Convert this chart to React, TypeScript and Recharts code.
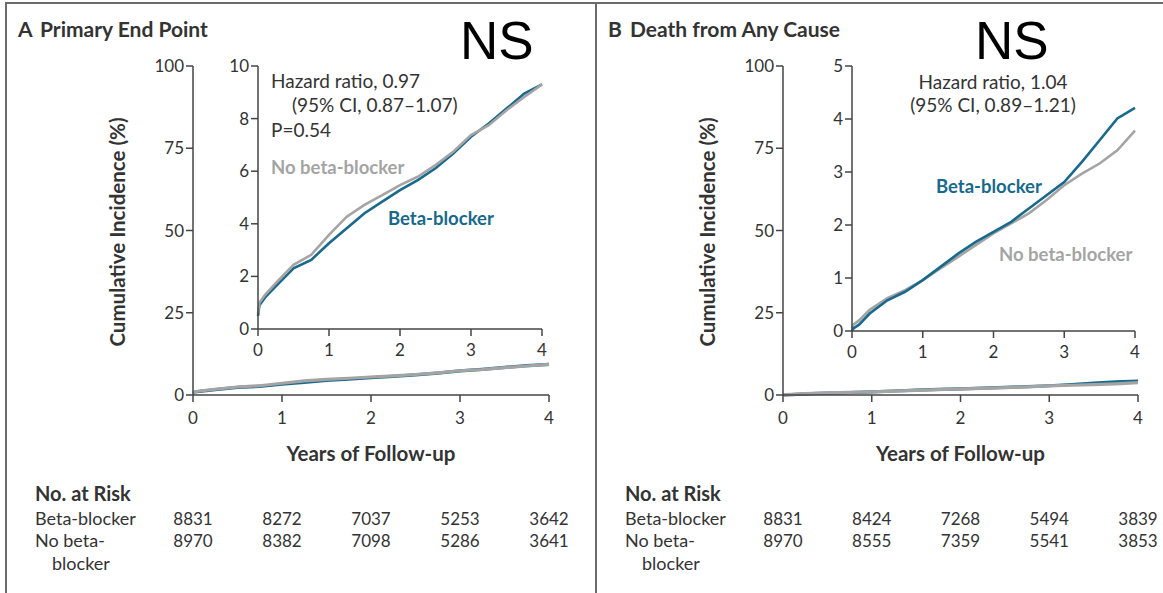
import React from 'react';
import { LineChart, Line, XAxis, YAxis } from 'recharts';

// follow-up time (years) at which the curves were read
const years = [0, 0.02, 0.1, 0.25, 0.5, 0.75, 1, 1.25, 1.5, 1.75, 2, 2.25, 2.5, 2.75, 3, 3.25, 3.5, 3.75, 4];

// A: primary end point, cumulative incidence (%)
const primaryBeta = [0.5, 0.9, 1.2, 1.62, 2.31, 2.63, 3.26, 3.83, 4.4, 4.84, 5.28, 5.66, 6.11, 6.67, 7.31, 7.81, 8.38, 8.95, 9.3];
const primaryNoBeta = [0.6, 1.0, 1.3, 1.74, 2.44, 2.82, 3.58, 4.27, 4.72, 5.09, 5.47, 5.79, 6.23, 6.74, 7.37, 7.75, 8.32, 8.82, 9.3];

// B: death from any cause, cumulative incidence (%)
const deathBeta = [0, 0.05, 0.12, 0.33, 0.58, 0.74, 0.96, 1.21, 1.46, 1.68, 1.87, 2.06, 2.31, 2.56, 2.81, 3.19, 3.6, 4.01, 4.21];
const deathNoBeta = [0.05, 0.12, 0.2, 0.4, 0.62, 0.77, 0.96, 1.18, 1.4, 1.62, 1.84, 2.03, 2.22, 2.47, 2.75, 2.97, 3.16, 3.41, 3.78];

const yearTicks = [0, 1, 2, 3, 4];
const mainTicks = [0, 25, 50, 75, 100];
const primaryInsetTicks = [0, 2, 4, 6, 8, 10];
const deathInsetTicks = [0, 1, 2, 3, 4, 5];

// numbers at risk
const primaryRiskBeta = [8831, 8272, 7037, 5253, 3642];
const primaryRiskNoBeta = [8970, 8382, 7098, 5286, 3641];
const deathRiskBeta = [8831, 8424, 7268, 5494, 3839];
const deathRiskNoBeta = [8970, 8555, 7359, 5541, 3853];

const BLUE = '#17698d';
const GRAY = '#a4a4a4';
const AXIS = '#444';
const TEXT = '#333';
const FONT = 'Lato, "Open Sans", sans-serif';

const toRows = (beta: number[], noBeta: number[]) =>
  years.map((t, i) => ({ t, beta: beta[i], noBeta: noBeta[i] }));

type Box = { left: number; top: number; right: number; bottom: number };

const KMChart = ({ box, data, yMax, yTicks, yAxisWidth, lineWidth, grayOnTop, xTickMargin }: {
  box: Box;
  data: { t: number; beta: number; noBeta: number }[];
  yMax: number;
  yTicks: number[];
  yAxisWidth: number;
  lineWidth: number;
  grayOnTop: boolean;
  xTickMargin: number;
}) => {
  const margin = { top: 10, right: 14, left: 0, bottom: 0 };
  const xAxisHeight = 40;
  const width = yAxisWidth + (box.right - box.left) + margin.right;
  const height = margin.top + (box.bottom - box.top) + xAxisHeight;
  const tick = { fill: TEXT, fontSize: 17, fontFamily: FONT };
  const lines = [
    <Line key="b" dataKey="beta" stroke={BLUE} strokeWidth={lineWidth} dot={false} isAnimationActive={false} type="linear" />,
    <Line key="n" dataKey="noBeta" stroke={GRAY} strokeWidth={lineWidth} dot={false} isAnimationActive={false} type="linear" />,
  ];
  return (
    <div style={{ position: 'absolute', left: box.left - yAxisWidth, top: box.top - margin.top }}>
      <LineChart width={width} height={height} data={data} margin={margin}>
        <XAxis
          dataKey="t"
          type="number"
          domain={[0, 4]}
          ticks={yearTicks}
          interval={0}
          height={xAxisHeight}
          tickSize={7}
          tickMargin={xTickMargin}
          axisLine={{ stroke: AXIS, strokeWidth: 1.5 }}
          tickLine={{ stroke: AXIS, strokeWidth: 1.5 }}
          tick={tick}
        />
        <YAxis
          type="number"
          domain={[0, yMax]}
          ticks={yTicks}
          interval={0}
          width={yAxisWidth}
          tickSize={7}
          tickMargin={2}
          axisLine={{ stroke: AXIS, strokeWidth: 1.5 }}
          tickLine={{ stroke: AXIS, strokeWidth: 1.5 }}
          tick={tick}
        />
        {grayOnTop ? lines : [lines[1], lines[0]]}
      </LineChart>
    </div>
  );
};

const T = ({ x, y, size = 19, bold = false, color = TEXT, center = false, children }: {
  x: number; y: number; size?: number; bold?: boolean; color?: string; center?: boolean; children: React.ReactNode;
}) => (
  <div
    style={{
      position: 'absolute',
      left: x,
      top: y - size / 2,
      fontSize: size,
      lineHeight: 1,
      fontFamily: FONT,
      fontWeight: bold ? 700 : 400,
      color,
      whiteSpace: 'nowrap',
      transform: center ? 'translateX(-50%)' : undefined,
    }}
  >
    {children}
  </div>
);

const Panel = ({ dx, nsX, letter, title, main, inset, insetMax, insetTicks, data, risk, riskNo, notes }: {
  dx: number;
  nsX: number;
  letter: string;
  title: string;
  main: Box;
  inset: Box;
  insetMax: number;
  insetTicks: number[];
  data: { t: number; beta: number; noBeta: number }[];
  risk: number[];
  riskNo: number[];
  notes: React.ReactNode;
}) => {
  const tickX = (i: number) => main.left + ((main.right - main.left) * yearTicks[i]) / 4;
  return (
    <>
      <T x={dx + 18} y={28} size={21} bold>{letter}</T>
      <T x={dx + 40} y={28} size={21} bold>{title}</T>
      <div
        style={{
          position: 'absolute', left: dx + 117, top: 232, fontSize: 20.5, fontWeight: 700, fontFamily: FONT,
          color: TEXT, whiteSpace: 'nowrap', lineHeight: 1, transform: 'translate(-50%, -50%) rotate(-90deg)',
        }}
      >
        Cumulative Incidence (%)
      </div>
      <div
        style={{
          position: 'absolute', left: (main.left + main.right) / 2, top: 453, fontSize: 20.5, fontWeight: 700,
          fontFamily: FONT, color: TEXT, whiteSpace: 'nowrap', lineHeight: 1, transform: 'translate(-50%, -50%)',
        }}
      >
        Years of Follow-up
      </div>
      <div
        style={{
          position: 'absolute', left: nsX, top: 14, fontSize: 53, lineHeight: 1,
          fontFamily: '"Liberation Sans", Arial, sans-serif', color: '#000',
        }}
      >
        NS
      </div>
      <KMChart box={main} data={data} yMax={100} yTicks={mainTicks} yAxisWidth={60} lineWidth={3.2} grayOnTop xTickMargin={10} />
      <KMChart box={inset} data={data} yMax={insetMax} yTicks={insetTicks} yAxisWidth={40} lineWidth={2.6} grayOnTop={dx === 0} xTickMargin={8} />
      {notes}
      <T x={dx + 35} y={493} size={20} bold>No. at Risk</T>
      <T x={dx + 35} y={518} size={18}>Beta-blocker</T>
      <T x={dx + 35} y={540} size={18}>No beta-</T>
      <T x={dx + 52} y={563} size={18}>blocker</T>
      {risk.map((v, i) => (
        <T key={`r${i}`} x={tickX(i)} y={518} size={17} center>{v}</T>
      ))}
      {riskNo.map((v, i) => (
        <T key={`n${i}`} x={tickX(i)} y={540} size={17} center>{v}</T>
      ))}
    </>
  );
};

export default function App() {
  return (
    <div style={{ position: 'absolute', left: 0, top: 0, width: 1163, height: 593, background: '#fff', overflow: 'hidden' }}>
      <div style={{ position: 'absolute', left: 5, top: 2, width: 1158, height: 2, background: '#6b6b6b' }} />
      <div style={{ position: 'absolute', left: 5, top: 2, width: 2, height: 591, background: '#6b6b6b' }} />
      <div style={{ position: 'absolute', left: 595, top: 2, width: 2, height: 591, background: '#6b6b6b' }} />
      <Panel
        dx={0}
        nsX={460}
        letter="A"
        title="Primary End Point"
        main={{ left: 193, top: 66, right: 549, bottom: 395 }}
        inset={{ left: 258, top: 66, right: 542, bottom: 329 }}
        insetMax={10}
        insetTicks={primaryInsetTicks}
        data={toRows(primaryBeta, primaryNoBeta)}
        risk={primaryRiskBeta}
        riskNo={primaryRiskNoBeta}
        notes={
          <>
            <T x={271} y={80}>Hazard ratio, 0.97</T>
            <T x={292} y={104}>(95% CI, 0.87–1.07)</T>
            <T x={271} y={129}>P=0.54</T>
            <T x={271} y={167} size={18.5} bold color={GRAY}>No beta-blocker</T>
            <T x={388} y={218} size={18.5} bold color={BLUE}>Beta-blocker</T>
          </>
        }
      />
      <Panel
        dx={590}
        nsX={975}
        letter="B"
        title="Death from Any Cause"
        main={{ left: 783, top: 66, right: 1138, bottom: 395 }}
        inset={{ left: 852, top: 66, right: 1135, bottom: 331 }}
        insetMax={5}
        insetTicks={deathInsetTicks}
        data={toRows(deathBeta, deathNoBeta)}
        risk={deathRiskBeta}
        riskNo={deathRiskNoBeta}
        notes={
          <>
            <T x={993} y={81} center>Hazard ratio, 1.04</T>
            <T x={993} y={104} center>(95% CI, 0.89–1.21)</T>
            <T x={936} y={186} size={18.5} bold color={BLUE}>Beta-blocker</T>
            <T x={999} y={254} size={18.5} bold color={GRAY}>No beta-blocker</T>
          </>
        }
      />
    </div>
  );
}
